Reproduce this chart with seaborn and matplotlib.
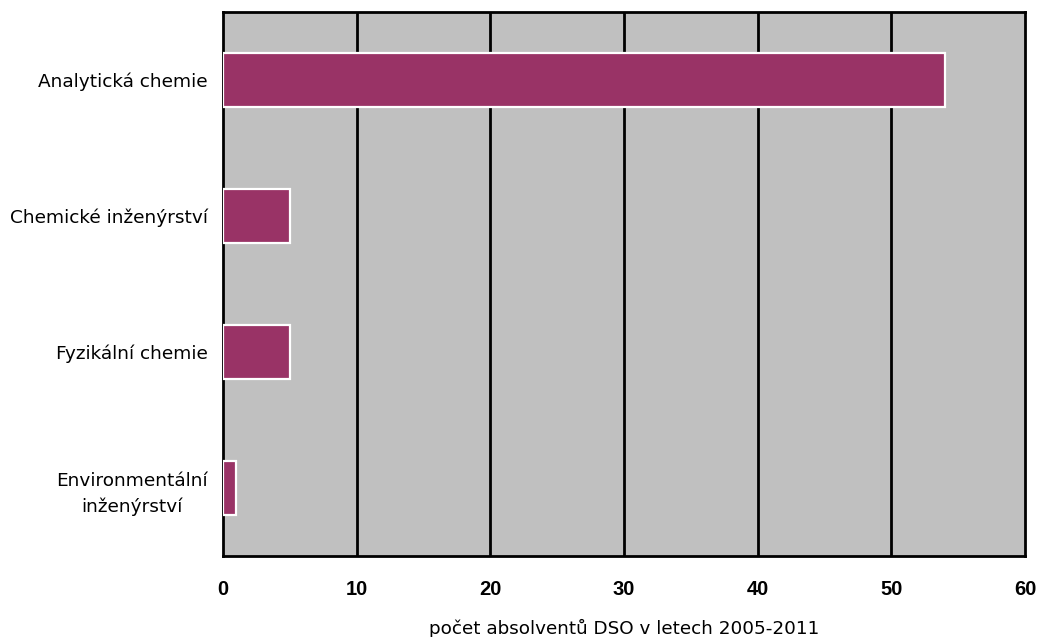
import matplotlib
matplotlib.use("Agg")
import matplotlib.pyplot as plt
import seaborn as sns
import pandas as pd

# Absolventi doktorského studia podle oboru
obory = ["Analytická chemie", "Chemické inženýrství", "Fyzikální chemie",
         "Environmentální\ninženýrství"]
pocty = [54, 5, 5, 1]
xticks = [0, 10, 20, 30, 40, 50, 60]

df = pd.DataFrame({"obor": obory, "pocet": pocty})

sns.set_style("white")
plt.rcParams["font.family"] = ["DejaVu Sans"]
plt.rcParams["text.color"] = "black"
plt.rcParams["axes.labelcolor"] = "black"
plt.rcParams["xtick.color"] = "black"
plt.rcParams["ytick.color"] = "black"

fig = plt.figure(figsize=(10.39, 6.37), dpi=100)
ax = fig.add_axes([0.2146, 0.1272, 0.9865 - 0.2146, 0.9812 - 0.1272])
ax.set_facecolor("#C0C0C0")

sns.barplot(data=df, x="pocet", y="obor", orient="h", color="#993366",
            saturation=1, width=0.4, edgecolor="white", linewidth=1.6,
            ax=ax, zorder=3)

ax.set_xlim(0, 60)
ax.set_ylim(3.5, -0.5)
ax.set_xticks(xticks)
ax.set_xticklabels([str(t) for t in xticks], fontsize=14.5, fontweight="bold",
                   family="Liberation Sans")
ax.tick_params(axis="x", length=0, pad=17)
ax.tick_params(axis="y", length=0, pad=11, labelsize=13.3)
for lab in ax.get_yticklabels():
    lab.set_multialignment("center")
    lab.set_linespacing(1.55)

for t in xticks[1:-1]:
    ax.axvline(t, color="black", linewidth=2, zorder=2)

for s in ax.spines.values():
    s.set_visible(True)
    s.set_color("black")
    s.set_linewidth(2)

ax.set_ylabel("")
ax.set_xlabel("počet absolventů DSO v letech 2005-2011", fontsize=13.2,
              labelpad=15)

fig.savefig("out.png", dpi=100)
